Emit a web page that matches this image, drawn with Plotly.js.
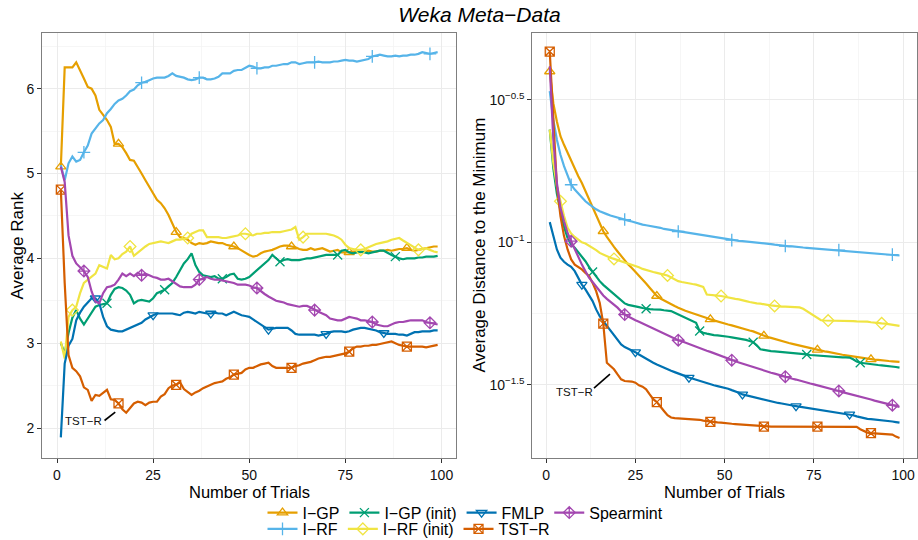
<!DOCTYPE html>
<html><head><meta charset="utf-8">
<script src="https://cdn.plot.ly/plotly-3.0.1.min.js"></script>
<style>html,body{margin:0;padding:0;background:#fff}#chart{width:918px;height:540px}</style>
</head><body><div id="chart"></div>
<script>
// Trial numbers (x axis of both panels)
const trials = [1,2,3,4,5,6,7,8,9,10,11,12,13,14,15,16,17,18,19,20,21,22,23,24,25,26,27,28,29,30,31,32,33,34,35,36,37,38,39,40,41,42,43,44,45,46,47,48,49,50,51,52,53,54,55,56,57,58,59,60,61,62,63,64,65,66,67,68,69,70,71,72,73,74,75,76,77,78,79,80,81,82,83,84,85,86,87,88,89,90,91,92,93,94,95,96,97,98,99];

const methods = ['I−GP','I−RF','I−GP (init)','I−RF (init)','FMLP','TST−R','Spearmint'];

// ---- Left panel: Average Rank ----
const rank_IGP = [5.08,6.25,6.25,6.25,6.31,6.22,6.12,6.02,6.00,5.92,5.75,5.69,5.63,5.55,5.35,5.35,5.31,5.24,5.16,5.15,5.08,5.00,4.92,4.84,4.76,4.69,4.65,4.59,4.51,4.41,4.31,4.25,4.24,4.22,4.18,4.16,4.18,4.17,4.18,4.20,4.19,4.18,4.18,4.16,4.15,4.14,4.12,4.09,4.07,4.04,4.02,4.03,4.06,4.08,4.09,4.10,4.12,4.14,4.15,4.15,4.14,4.13,4.11,4.10,4.10,4.12,4.10,4.11,4.12,4.10,4.08,4.09,4.10,4.07,4.07,4.07,4.08,4.08,4.07,4.08,4.09,4.08,4.08,4.09,4.09,4.10,4.09,4.10,4.11,4.11,4.12,4.10,4.09,4.10,4.11,4.12,4.13,4.14,4.14];
const rank_IRF = [5.10,4.92,5.12,5.20,5.14,5.16,5.25,5.33,5.47,5.53,5.59,5.63,5.71,5.76,5.82,5.86,5.88,5.92,5.97,5.99,6.04,6.07,6.08,6.10,6.12,6.13,6.13,6.13,6.15,6.18,6.15,6.14,6.13,6.11,6.10,6.11,6.13,6.13,6.11,6.11,6.12,6.14,6.18,6.18,6.18,6.21,6.22,6.22,6.25,6.27,6.26,6.24,6.24,6.25,6.25,6.27,6.27,6.28,6.29,6.29,6.31,6.31,6.29,6.30,6.31,6.31,6.31,6.32,6.31,6.31,6.31,6.32,6.32,6.33,6.34,6.33,6.33,6.32,6.33,6.34,6.35,6.38,6.39,6.40,6.39,6.38,6.38,6.39,6.38,6.39,6.39,6.40,6.40,6.41,6.43,6.42,6.41,6.42,6.43];
const rank_IGPinit = [3.00,2.88,3.12,3.30,3.39,3.29,3.22,3.29,3.36,3.43,3.45,3.46,3.47,3.57,3.64,3.66,3.65,3.62,3.57,3.47,3.50,3.51,3.50,3.49,3.53,3.59,3.61,3.63,3.67,3.71,3.78,3.86,3.94,3.99,4.06,3.92,3.84,3.80,3.79,3.78,3.79,3.76,3.76,3.78,3.81,3.82,3.76,3.75,3.76,3.78,3.82,3.86,3.90,3.94,3.98,4.04,4.00,3.96,3.98,3.99,3.98,3.98,3.98,3.99,4.00,4.00,4.01,4.02,4.03,4.04,4.04,4.04,4.04,4.09,4.10,4.07,4.06,4.07,4.08,4.07,4.06,4.07,4.08,4.09,4.09,4.06,4.04,4.02,4.00,3.99,4.00,4.00,4.00,4.01,4.01,4.02,4.02,4.02,4.03];
const rank_IRFinit = [3.02,2.82,3.31,3.39,3.43,3.59,3.71,3.75,3.79,3.82,3.92,3.90,3.88,4.04,3.99,4.00,4.05,4.08,4.14,4.03,4.07,4.11,4.14,4.17,4.18,4.19,4.20,4.19,4.18,4.20,4.22,4.22,4.23,4.24,4.29,4.31,4.33,4.33,4.25,4.25,4.25,4.25,4.24,4.24,4.25,4.26,4.27,4.29,4.29,4.28,4.27,4.29,4.29,4.30,4.30,4.31,4.31,4.31,4.32,4.33,4.34,4.37,4.22,4.25,4.29,4.29,4.29,4.29,4.29,4.29,4.28,4.27,4.25,4.22,4.16,4.12,4.11,4.10,4.10,4.11,4.13,4.15,4.17,4.18,4.19,4.20,4.22,4.23,4.24,4.21,4.18,4.15,4.12,4.10,4.11,4.12,4.10,4.08,4.07];
const rank_FMLP = [1.89,2.76,2.97,3.05,3.27,3.36,3.43,3.48,3.53,3.53,3.47,3.31,3.20,3.16,3.15,3.14,3.14,3.16,3.18,3.20,3.22,3.24,3.28,3.31,3.33,3.35,3.35,3.35,3.35,3.35,3.34,3.33,3.36,3.37,3.36,3.35,3.37,3.36,3.35,3.35,3.36,3.35,3.35,3.33,3.35,3.37,3.35,3.33,3.32,3.31,3.28,3.25,3.21,3.18,3.16,3.17,3.18,3.18,3.18,3.18,3.15,3.11,3.10,3.10,3.10,3.10,3.10,3.09,3.10,3.11,3.13,3.14,3.14,3.14,3.13,3.14,3.16,3.17,3.18,3.18,3.17,3.16,3.15,3.13,3.12,3.11,3.11,3.11,3.10,3.10,3.09,3.11,3.13,3.13,3.14,3.14,3.14,3.15,3.15];
const rank_TSTR = [4.81,3.71,2.86,2.71,2.67,2.61,2.48,2.45,2.32,2.39,2.38,2.42,2.45,2.34,2.33,2.29,2.22,2.18,2.23,2.29,2.31,2.30,2.27,2.30,2.31,2.31,2.37,2.40,2.47,2.50,2.51,2.54,2.46,2.42,2.39,2.42,2.44,2.47,2.49,2.51,2.53,2.54,2.55,2.58,2.60,2.63,2.64,2.65,2.69,2.71,2.71,2.73,2.75,2.76,2.77,2.73,2.71,2.71,2.71,2.71,2.71,2.73,2.74,2.76,2.77,2.78,2.80,2.82,2.83,2.84,2.84,2.85,2.86,2.87,2.88,2.90,2.94,2.96,2.96,2.97,2.97,2.98,2.98,2.99,3.00,3.01,3.02,3.00,2.98,2.97,2.96,2.96,2.96,2.96,2.96,2.95,2.96,2.97,2.98];
const rank_Spearmint = [5.08,4.90,4.27,4.03,3.94,3.89,3.85,3.78,3.61,3.49,3.47,3.59,3.66,3.67,3.69,3.75,3.82,3.79,3.82,3.79,3.83,3.80,3.82,3.80,3.78,3.77,3.75,3.75,3.76,3.73,3.70,3.67,3.66,3.66,3.66,3.69,3.75,3.76,3.78,3.76,3.75,3.75,3.74,3.73,3.72,3.71,3.69,3.69,3.69,3.68,3.66,3.65,3.61,3.58,3.55,3.52,3.50,3.49,3.48,3.46,3.45,3.44,3.43,3.44,3.44,3.42,3.39,3.37,3.35,3.33,3.29,3.28,3.27,3.27,3.29,3.31,3.30,3.29,3.27,3.27,3.26,3.25,3.22,3.21,3.20,3.20,3.22,3.24,3.25,3.25,3.26,3.27,3.27,3.27,3.27,3.25,3.24,3.23,3.22];

// ---- Right panel: Average Distance to the Minimum, read as log10 values ----
const log10dist_IGP = [-0.401,-0.512,-0.576,-0.628,-0.658,-0.687,-0.716,-0.739,-0.768,-0.792,-0.821,-0.850,-0.879,-0.908,-0.938,-0.961,-0.981,-1.000,-1.016,-1.032,-1.048,-1.064,-1.078,-1.090,-1.103,-1.116,-1.130,-1.144,-1.159,-1.174,-1.188,-1.197,-1.204,-1.211,-1.218,-1.223,-1.229,-1.235,-1.240,-1.244,-1.248,-1.251,-1.256,-1.261,-1.265,-1.270,-1.274,-1.277,-1.281,-1.284,-1.288,-1.291,-1.295,-1.298,-1.302,-1.305,-1.309,-1.312,-1.317,-1.323,-1.328,-1.332,-1.335,-1.339,-1.342,-1.346,-1.349,-1.353,-1.356,-1.359,-1.361,-1.365,-1.368,-1.372,-1.374,-1.377,-1.380,-1.382,-1.384,-1.387,-1.389,-1.391,-1.394,-1.396,-1.398,-1.401,-1.402,-1.404,-1.407,-1.408,-1.410,-1.411,-1.412,-1.414,-1.415,-1.416,-1.417,-1.418,-1.419];
const log10dist_IRF = [-0.470,-0.570,-0.640,-0.693,-0.733,-0.768,-0.798,-0.815,-0.830,-0.844,-0.856,-0.866,-0.876,-0.884,-0.891,-0.897,-0.901,-0.906,-0.910,-0.913,-0.917,-0.920,-0.924,-0.927,-0.931,-0.934,-0.938,-0.940,-0.942,-0.945,-0.947,-0.949,-0.953,-0.955,-0.957,-0.960,-0.962,-0.964,-0.967,-0.969,-0.971,-0.973,-0.975,-0.977,-0.978,-0.981,-0.983,-0.984,-0.986,-0.988,-0.990,-0.992,-0.994,-0.995,-0.996,-0.997,-0.998,-1.000,-1.001,-1.003,-1.004,-1.005,-1.006,-1.008,-1.010,-1.011,-1.013,-1.014,-1.014,-1.016,-1.017,-1.018,-1.019,-1.020,-1.022,-1.022,-1.023,-1.024,-1.025,-1.026,-1.026,-1.027,-1.029,-1.030,-1.031,-1.031,-1.032,-1.033,-1.034,-1.036,-1.037,-1.037,-1.038,-1.039,-1.040,-1.041,-1.043,-1.044,-1.046];
const log10dist_IGPinit = [-0.605,-0.740,-0.830,-0.890,-0.945,-0.985,-1.008,-1.019,-1.034,-1.048,-1.066,-1.086,-1.104,-1.121,-1.136,-1.149,-1.160,-1.172,-1.183,-1.194,-1.206,-1.214,-1.219,-1.221,-1.223,-1.227,-1.230,-1.233,-1.234,-1.235,-1.235,-1.236,-1.238,-1.239,-1.241,-1.247,-1.253,-1.259,-1.264,-1.270,-1.276,-1.282,-1.311,-1.317,-1.320,-1.323,-1.325,-1.326,-1.327,-1.328,-1.331,-1.333,-1.335,-1.338,-1.340,-1.342,-1.346,-1.350,-1.361,-1.375,-1.377,-1.380,-1.381,-1.382,-1.383,-1.384,-1.386,-1.387,-1.388,-1.389,-1.390,-1.391,-1.393,-1.395,-1.396,-1.397,-1.398,-1.400,-1.401,-1.401,-1.402,-1.402,-1.403,-1.403,-1.404,-1.410,-1.418,-1.422,-1.424,-1.425,-1.427,-1.428,-1.430,-1.431,-1.432,-1.435,-1.436,-1.437,-1.439];
const log10dist_IRFinit = [-0.605,-0.722,-0.803,-0.856,-0.908,-0.949,-0.969,-0.981,-0.990,-1.000,-1.004,-1.011,-1.019,-1.027,-1.037,-1.043,-1.048,-1.054,-1.058,-1.062,-1.067,-1.072,-1.075,-1.079,-1.083,-1.087,-1.093,-1.097,-1.102,-1.104,-1.107,-1.109,-1.113,-1.116,-1.123,-1.130,-1.136,-1.139,-1.142,-1.144,-1.146,-1.148,-1.151,-1.156,-1.183,-1.185,-1.186,-1.187,-1.188,-1.191,-1.193,-1.195,-1.198,-1.200,-1.202,-1.206,-1.209,-1.212,-1.214,-1.215,-1.216,-1.219,-1.221,-1.223,-1.223,-1.225,-1.225,-1.226,-1.227,-1.227,-1.228,-1.233,-1.241,-1.249,-1.259,-1.268,-1.273,-1.274,-1.274,-1.274,-1.275,-1.275,-1.275,-1.276,-1.276,-1.276,-1.277,-1.277,-1.277,-1.278,-1.280,-1.282,-1.283,-1.284,-1.285,-1.287,-1.289,-1.291,-1.293];
const log10dist_FMLP = [-0.929,-0.978,-1.025,-1.054,-1.068,-1.078,-1.086,-1.101,-1.124,-1.148,-1.165,-1.185,-1.206,-1.235,-1.259,-1.276,-1.293,-1.311,-1.328,-1.343,-1.358,-1.367,-1.373,-1.377,-1.385,-1.393,-1.401,-1.408,-1.416,-1.422,-1.428,-1.434,-1.439,-1.445,-1.450,-1.455,-1.459,-1.464,-1.469,-1.474,-1.478,-1.483,-1.486,-1.490,-1.494,-1.498,-1.501,-1.504,-1.507,-1.509,-1.513,-1.518,-1.522,-1.527,-1.533,-1.536,-1.540,-1.543,-1.547,-1.550,-1.553,-1.556,-1.558,-1.561,-1.563,-1.565,-1.568,-1.570,-1.572,-1.574,-1.576,-1.578,-1.581,-1.583,-1.584,-1.585,-1.588,-1.590,-1.592,-1.593,-1.595,-1.597,-1.599,-1.602,-1.603,-1.606,-1.610,-1.613,-1.617,-1.619,-1.620,-1.621,-1.623,-1.625,-1.626,-1.627,-1.628,-1.630,-1.632];
const log10dist_TSTR = [-0.331,-0.582,-0.803,-0.908,-0.978,-1.025,-1.060,-1.078,-1.086,-1.095,-1.107,-1.118,-1.142,-1.171,-1.212,-1.285,-1.422,-1.434,-1.445,-1.463,-1.480,-1.486,-1.487,-1.488,-1.492,-1.501,-1.506,-1.515,-1.533,-1.550,-1.560,-1.574,-1.591,-1.606,-1.614,-1.616,-1.617,-1.617,-1.618,-1.618,-1.619,-1.620,-1.622,-1.625,-1.627,-1.629,-1.630,-1.631,-1.632,-1.634,-1.635,-1.636,-1.637,-1.638,-1.639,-1.640,-1.641,-1.642,-1.643,-1.644,-1.646,-1.646,-1.646,-1.646,-1.646,-1.646,-1.646,-1.646,-1.646,-1.646,-1.646,-1.646,-1.646,-1.646,-1.646,-1.646,-1.646,-1.646,-1.646,-1.646,-1.646,-1.646,-1.646,-1.646,-1.646,-1.646,-1.647,-1.655,-1.662,-1.667,-1.669,-1.670,-1.671,-1.673,-1.673,-1.673,-1.674,-1.681,-1.686];
const log10dist_Spearmint = [-0.383,-0.640,-0.792,-0.879,-0.926,-0.967,-0.996,-1.025,-1.054,-1.078,-1.101,-1.124,-1.139,-1.156,-1.171,-1.186,-1.198,-1.208,-1.219,-1.229,-1.242,-1.253,-1.260,-1.267,-1.273,-1.278,-1.284,-1.291,-1.297,-1.303,-1.309,-1.315,-1.321,-1.327,-1.333,-1.338,-1.343,-1.347,-1.352,-1.356,-1.361,-1.366,-1.371,-1.375,-1.380,-1.384,-1.389,-1.394,-1.398,-1.403,-1.408,-1.413,-1.417,-1.421,-1.425,-1.430,-1.435,-1.439,-1.443,-1.446,-1.450,-1.453,-1.457,-1.460,-1.464,-1.467,-1.471,-1.474,-1.478,-1.481,-1.485,-1.488,-1.492,-1.495,-1.498,-1.501,-1.505,-1.508,-1.512,-1.515,-1.518,-1.521,-1.525,-1.528,-1.532,-1.535,-1.539,-1.542,-1.544,-1.548,-1.551,-1.555,-1.558,-1.561,-1.564,-1.568,-1.571,-1.573,-1.577];

// ---- styling (not data) ----
const rankSeries = [rank_IGP, rank_IRF, rank_IGPinit, rank_IRFinit, rank_FMLP, rank_TSTR, rank_Spearmint];
const distSeries = [log10dist_IGP, log10dist_IRF, log10dist_IGPinit, log10dist_IRFinit, log10dist_FMLP, log10dist_TSTR, log10dist_Spearmint];
const colors = ['#E69F00','#56B4E9','#009E73','#F0E442','#0072B2','#D55E00','#A347B0'];
const symbols = ['triangle-up-open','cross-thin-open','x-thin-open','diamond-open','triangle-down-open','square-x-open','diamond-cross-open'];
const markerTrials = [
  [1,16,31,46,61,76,91],
  [7,22,37,52,67,82,97],
  [13,28,43,58,73,88],
  [4,19,34,49,64,79,94],
  [10,25,40,55,70,85],
  [1,16,31,46,61,76,91],
  [7,22,37,52,67,82,97]
];
const legendRow = ['legend','legend2','legend','legend2','legend','legend2','legend'];

const traces = [];
methods.forEach((name, i) => {
  const sel = markerTrials[i].map(t => trials.indexOf(t));
  const common = {
    mode: 'lines+markers', name: name,
    line: {color: colors[i], width: 2.2},
    marker: {symbol: symbols[i], size: 9, color: colors[i], line: {color: colors[i], width: 1.3}},
    selectedpoints: sel,
    selected: {marker: {opacity: 1}},
    unselected: {marker: {opacity: 0}},
    hoverinfo: 'skip'
  };
  traces.push(Object.assign({}, common, {x: trials, y: rankSeries[i], xaxis: 'x', yaxis: 'y', legend: legendRow[i], showlegend: true, legendgroup: name}));
  traces.push(Object.assign({}, common, {x: trials, y: distSeries[i].map(v => Math.pow(10, v)), xaxis: 'x2', yaxis: 'y2', showlegend: false, legendgroup: name}));
});

const gridMajor = '#EBEBEB', gridMinor = '#F4F4F4';
const axisBase = {
  showline: true, mirror: true, linecolor: '#7F7F7F', linewidth: 1,
  ticks: 'outside', ticklen: 4, tickcolor: '#333333', tickwidth: 1,
  tickfont: {size: 14, color: '#111'},
  showgrid: true, gridcolor: gridMajor, gridwidth: 1, zeroline: false
};
const xBase = Object.assign({}, axisBase, {
  range: [-3.9, 103.9], tickmode: 'linear', tick0: 0, dtick: 25,
  minor: {tick0: 0, dtick: 12.5, showgrid: true, gridcolor: gridMinor, gridwidth: 0.8}
});

const legendBase = {orientation: 'h', xanchor: 'left', yanchor: 'middle', font: {size: 16, color: '#000'},
  bgcolor: 'rgba(0,0,0,0)', borderwidth: 0, itemclick: false, itemdoubleclick: false};

// "TST−R" label leader lines (label geometry, not data)
const pointerLeft = {x0: 12.37, y0: 2.089, x1: 15.15, y1: 2.188};
const pointerRightLog = {x0: 13.39, y0: -1.511, x1: 17.87, y1: -1.462};

const titleFont = {size: 17, color: '#000'};
const xTitleFont = {size: 16.5, color: '#000'};

const layout = {
  width: 918, height: 540,
  margin: {l: 42, r: 1, t: 33, b: 82, autoexpand: false},
  paper_bgcolor: '#ffffff', plot_bgcolor: '#ffffff',
  font: {family: 'Liberation Sans, Arial, Helvetica, sans-serif', color: '#111'},
  title: {text: 'Weka Meta−Data', font: {size: 21, style: 'italic', color: '#000'},
          x: 0.5, xref: 'paper', xanchor: 'center', y: 1 - 15/540, yref: 'container', yanchor: 'middle'},
  xaxis: Object.assign({}, xBase, {domain: [0, 0.4737], anchor: 'y'}),
  xaxis2: Object.assign({}, xBase, {domain: [0.5603, 1], anchor: 'y2'}),
  yaxis: Object.assign({}, axisBase, {
    domain: [0, 1], anchor: 'x', range: [1.647, 6.656], tickmode: 'linear', tick0: 0, dtick: 1,
    minor: {tick0: 0, dtick: 0.5, showgrid: true, gridcolor: gridMinor, gridwidth: 0.8}
  }),
  yaxis2: Object.assign({}, axisBase, {
    domain: [0, 1], anchor: 'x2', type: 'log', range: [-1.756, -0.266],
    tickmode: 'array', tickvals: [Math.pow(10, -1.5), Math.pow(10, -1), Math.pow(10, -0.5)],
    ticktext: ['10<sup>−1.5</sup>', '10<sup>−1</sup>', '10<sup>−0.5</sup>'],
    minor: {tickmode: 'array', tickvals: [Math.pow(10, -1.25), Math.pow(10, -0.75)], showgrid: true, gridcolor: gridMinor, gridwidth: 0.8}
  }),
  legend: Object.assign({}, legendBase, {x: 0.252, y: -0.1287}),
  legend2: Object.assign({}, legendBase, {x: 0.252, y: -0.167}),
  shapes: [
    {type: 'line', xref: 'x', yref: 'y', x0: pointerLeft.x0, y0: pointerLeft.y0, x1: pointerLeft.x1, y1: pointerLeft.y1,
     line: {color: '#000', width: 1.6}, layer: 'above'},
    {type: 'line', xref: 'x2', yref: 'y2', x0: pointerRightLog.x0, y0: Math.pow(10, pointerRightLog.y0),
     x1: pointerRightLog.x1, y1: Math.pow(10, pointerRightLog.y1), line: {color: '#000', width: 1.6}, layer: 'above'}
  ],
  annotations: [
    {xref: 'paper', yref: 'paper', x: -25/875, y: 0.5, xanchor: 'center', yanchor: 'middle', textangle: -90,
     text: 'Average Rank', showarrow: false, font: titleFont},
    {xref: 'paper', yref: 'paper', x: 437/875, y: 0.5, xanchor: 'center', yanchor: 'middle', textangle: -90,
     text: 'Average Distance to the Minimum', showarrow: false, font: titleFont},
    {xref: 'paper', yref: 'paper', x: 0.4737/2, y: -34/425, xanchor: 'center', yanchor: 'middle', borderpad: 0,
     text: 'Number of Trials', showarrow: false, font: xTitleFont},
    {xref: 'paper', yref: 'paper', x: (0.5603 + 1)/2, y: -34/425, xanchor: 'center', yanchor: 'middle', borderpad: 0,
     text: 'Number of Trials', showarrow: false, font: xTitleFont},
    {xref: 'x', yref: 'y', x: 6.96, y: 2.089, text: 'TST−R', showarrow: false, font: {size: 11.5, color: '#111'}},
    {xref: 'x2', yref: 'y2', x: 7.92, y: -1.526, text: 'TST−R', showarrow: false, font: {size: 11.5, color: '#111'}}
  ],
  hovermode: false,
  dragmode: false
};

Plotly.newPlot('chart', traces, layout, {displayModeBar: false, staticPlot: true});
</script>
</body></html>
